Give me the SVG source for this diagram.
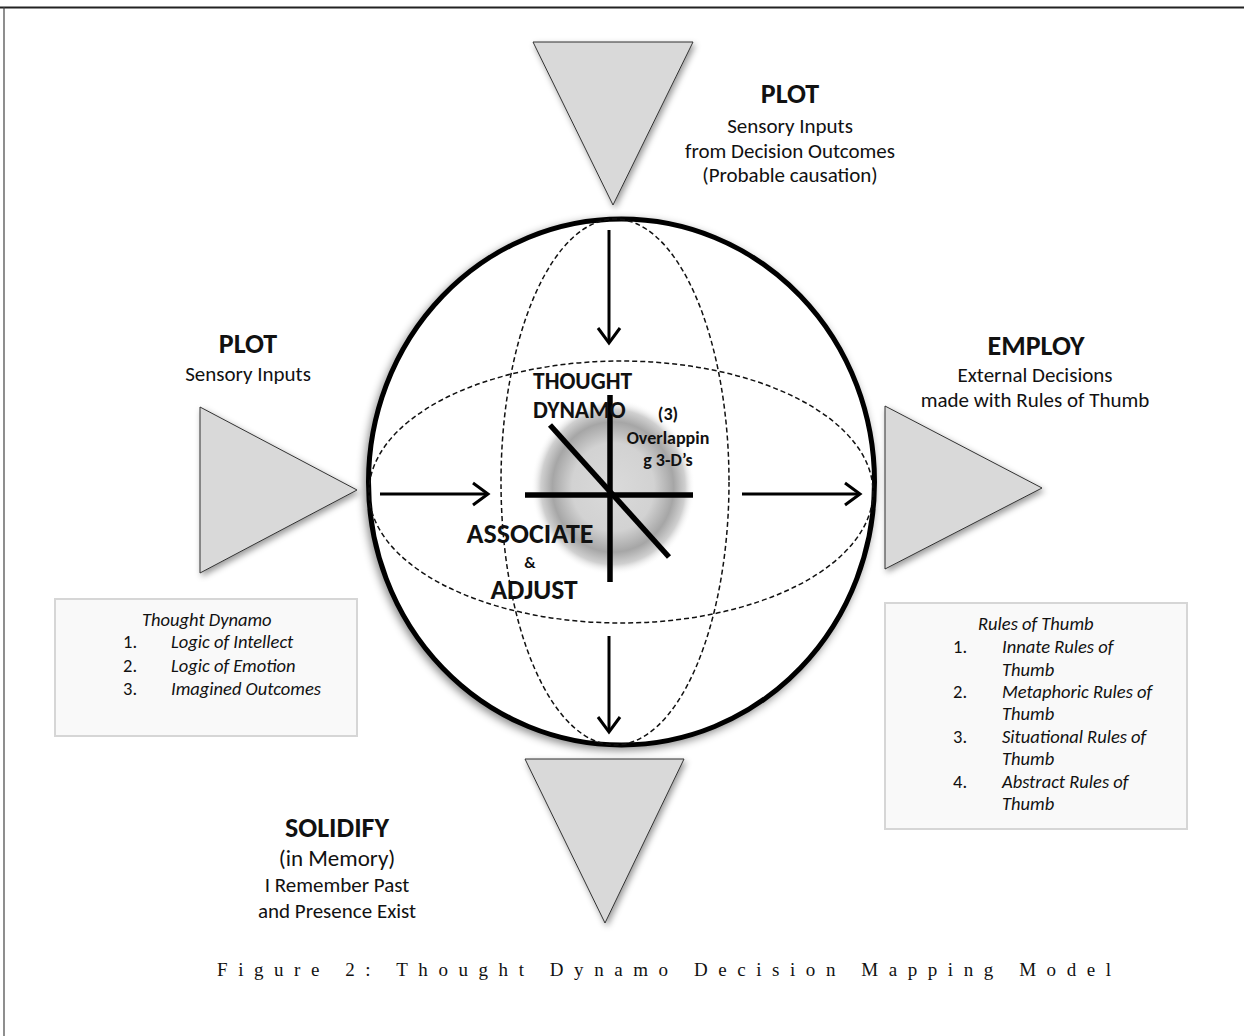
<svg xmlns="http://www.w3.org/2000/svg" width="1244" height="1036" viewBox="0 0 1244 1036">
<style>
.t{font-family:Carlito,Calibri,Lato,"Liberation Sans",sans-serif;fill:#111}
.h{font-size:28px;font-weight:bold;text-anchor:middle}
.b{font-size:21px;text-anchor:middle}
.i{font-size:18.5px;font-style:italic}
.n{font-size:18.5px}
.c{font-weight:bold}
.tri{fill:#d9d9d9;stroke:#333;stroke-width:1;filter:url(#sh)}
.box{fill:#f9f9f9;stroke:#d6d6d6;stroke-width:2}
.dash{fill:none;stroke:#111;stroke-width:1.5;stroke-dasharray:5 3}
.arr{stroke:#000;stroke-width:3;fill:none;marker-end:url(#ah)}
.ax{stroke:#000;stroke-width:5.5}
</style>
<defs>
<filter id="sh" x="-20%" y="-20%" width="140%" height="140%">
<feDropShadow dx="2" dy="3" stdDeviation="3" flood-color="#000" flood-opacity="0.4"/>
</filter>
<filter id="csh" x="-10%" y="-10%" width="120%" height="120%">
<feDropShadow dx="-2" dy="3" stdDeviation="4" flood-color="#000" flood-opacity="0.45"/>
</filter>
<radialGradient id="blob" cx="0.5" cy="0.5" r="0.5">
<stop offset="0" stop-color="#dadada"/>
<stop offset="0.5" stop-color="#d2d2d2"/>
<stop offset="0.74" stop-color="#a6a6a6"/>
<stop offset="0.88" stop-color="#d0d0d0"/>
<stop offset="1" stop-color="#ffffff" stop-opacity="0"/>
</radialGradient>
<marker id="ah" markerUnits="userSpaceOnUse" markerWidth="22" markerHeight="28" refX="18" refY="13" orient="auto">
<path d="M3,2 L18,13 L3,24" fill="none" stroke="#000" stroke-width="3"/>
</marker>
</defs>
<rect width="1244" height="1036" fill="#fff"/>
<g id="frame">
<line x1="0" y1="7.5" x2="1244" y2="7.5" stroke="#222" stroke-width="2"/>
<line x1="4" y1="7" x2="4" y2="1036" stroke="#444" stroke-width="1.2"/>
</g>
<g id="sphere">
<ellipse cx="621.5" cy="482" rx="253" ry="263" fill="#fff" stroke="#000" stroke-width="5" filter="url(#csh)"/>
<ellipse cx="613" cy="487" rx="82" ry="88" fill="url(#blob)"/>
<ellipse cx="615" cy="482" rx="114" ry="263" class="dash"/>
<ellipse cx="621" cy="492" rx="252" ry="131" class="dash"/>
</g>
<g id="axes">
<line x1="610" y1="395" x2="610" y2="582" class="ax"/>
<line x1="525" y1="495" x2="693" y2="495" class="ax"/>
<line x1="550" y1="425" x2="669" y2="557" class="ax"/>
</g>
<g id="tri-top"><polygon points="533,42 693,42 613,205" class="tri"/></g>
<g id="tri-left"><polygon points="200,407 200,573 357,490" class="tri"/></g>
<g id="tri-right"><polygon points="885,406 885,569 1042,488" class="tri"/></g>
<g id="tri-bottom"><polygon points="525,759 684,759 605,923" class="tri"/></g>
<g id="connectors">
<line x1="609" y1="230" x2="609" y2="343" class="arr"/>
<line x1="609" y1="636" x2="609" y2="732" class="arr"/>
<line x1="380" y1="494" x2="488" y2="494" class="arr"/>
<line x1="742" y1="494" x2="860" y2="494" class="arr"/>
</g>
<g id="label-plot-top">
<text x="790" y="103" class="t h">PLOT</text>
<text x="790" y="133" class="t b">Sensory Inputs</text>
<text x="790" y="158" class="t b">from Decision Outcomes</text>
<text x="790" y="182" class="t b">(Probable causation)</text>
</g>
<g id="label-plot-left">
<text x="248" y="353" class="t h">PLOT</text>
<text x="248" y="381" class="t b">Sensory Inputs</text>
</g>
<g id="label-employ">
<text x="1036" y="355" class="t h">EMPLOY</text>
<text x="1035" y="382" class="t b">External Decisions</text>
<text x="1035" y="407" class="t b">made with Rules of Thumb</text>
</g>
<g id="label-solidify">
<text x="337" y="837" class="t h">SOLIDIFY</text>
<text x="337" y="866" class="t b" style="font-size:23px">(in Memory)</text>
<text x="337" y="892" class="t b">I Remember Past</text>
<text x="337" y="918" class="t b">and Presence Exist</text>
</g>
<g id="box-thought-dynamo">
<rect x="55" y="599" width="302" height="137" class="box"/>
<text x="142" y="626" class="t i">Thought Dynamo</text>
<text x="123" y="648" class="t n">1.</text>
<text x="171" y="648" class="t i">Logic of Intellect</text>
<text x="123" y="672" class="t n">2.</text>
<text x="171" y="672" class="t i">Logic of Emotion</text>
<text x="123" y="695" class="t n">3.</text>
<text x="171" y="695" class="t i">Imagined Outcomes</text>
</g>
<g id="box-rules">
<rect x="885" y="603" width="302" height="226" class="box"/>
<text x="978" y="630" class="t i">Rules of Thumb</text>
<text x="953" y="653" class="t n">1.</text>
<text x="1002" y="653" class="t i">Innate Rules of</text>
<text x="1002" y="676" class="t i">Thumb</text>
<text x="953" y="698" class="t n">2.</text>
<text x="1002" y="698" class="t i">Metaphoric Rules of</text>
<text x="1002" y="720" class="t i">Thumb</text>
<text x="953" y="743" class="t n">3.</text>
<text x="1002" y="743" class="t i">Situational Rules of</text>
<text x="1002" y="765" class="t i">Thumb</text>
<text x="953" y="788" class="t n">4.</text>
<text x="1002" y="788" class="t i">Abstract Rules of</text>
<text x="1002" y="810" class="t i">Thumb</text>
</g>
<g id="label-center">
<text x="533" y="389" class="t c" style="font-size:23.5px">THOUGHT</text>
<text x="533" y="418" class="t c" style="font-size:23.5px">DYNAMO</text>
<text x="668" y="420" class="t c" style="font-size:18px;text-anchor:middle">(3)</text>
<text x="668" y="444" class="t c" style="font-size:18px;text-anchor:middle">Overlappin</text>
<text x="668" y="466" class="t c" style="font-size:18px;text-anchor:middle">g 3-D’s</text>
<text x="530" y="543" class="t c" style="font-size:28px;text-anchor:middle">ASSOCIATE</text>
<text x="530" y="568" class="t c" style="font-size:16px;text-anchor:middle">&amp;</text>
<text x="534" y="599" class="t c" style="font-size:27.5px;text-anchor:middle">ADJUST</text>
</g>
<g id="caption">
<text x="664" y="976" style="font-family:'Liberation Serif',serif;font-size:19px;fill:#111;text-anchor:middle" textLength="894" lengthAdjust="spacing">Figure 2: Thought Dynamo Decision Mapping Model</text>
</g>
</svg>
